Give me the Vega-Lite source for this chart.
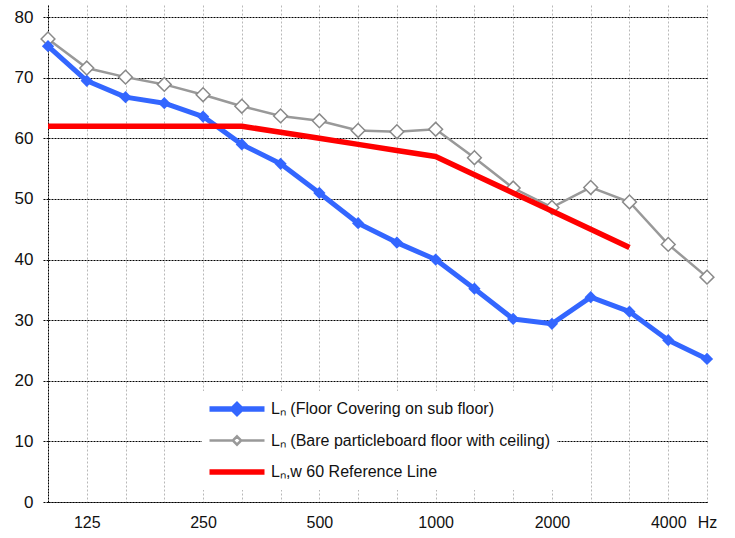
{
  "$schema": "https://vega.github.io/schema/vega-lite/v6.json",
  "autosize": "none",
  "width": 659,
  "height": 497,
  "padding": {"left": 48, "top": 5, "right": 28, "bottom": 36},
  "background": "white",
  "config": {
    "font": "Liberation Sans",
    "view": {"stroke": null},
    "legend": {"labelFont": "Liberation Sans"}
  },
  "data": {
    "values": [
      {"f": 100, "s": "Lₙ (Floor Covering on sub floor)", "v": 75.2},
      {"f": 125, "s": "Lₙ (Floor Covering on sub floor)", "v": 69.5},
      {"f": 160, "s": "Lₙ (Floor Covering on sub floor)", "v": 66.8},
      {"f": 200, "s": "Lₙ (Floor Covering on sub floor)", "v": 65.8},
      {"f": 250, "s": "Lₙ (Floor Covering on sub floor)", "v": 63.6},
      {"f": 315, "s": "Lₙ (Floor Covering on sub floor)", "v": 59.0},
      {"f": 400, "s": "Lₙ (Floor Covering on sub floor)", "v": 55.8},
      {"f": 500, "s": "Lₙ (Floor Covering on sub floor)", "v": 51.0},
      {"f": 630, "s": "Lₙ (Floor Covering on sub floor)", "v": 46.0},
      {"f": 800, "s": "Lₙ (Floor Covering on sub floor)", "v": 42.8},
      {"f": 1000, "s": "Lₙ (Floor Covering on sub floor)", "v": 40.0},
      {"f": 1250, "s": "Lₙ (Floor Covering on sub floor)", "v": 35.2},
      {"f": 1600, "s": "Lₙ (Floor Covering on sub floor)", "v": 30.2},
      {"f": 2000, "s": "Lₙ (Floor Covering on sub floor)", "v": 29.4},
      {"f": 2500, "s": "Lₙ (Floor Covering on sub floor)", "v": 33.8},
      {"f": 3150, "s": "Lₙ (Floor Covering on sub floor)", "v": 31.4},
      {"f": 4000, "s": "Lₙ (Floor Covering on sub floor)", "v": 26.7},
      {"f": 5000, "s": "Lₙ (Floor Covering on sub floor)", "v": 23.6},
      {"f": 100, "s": "Lₙ (Bare particleboard floor with ceiling)", "v": 76.4},
      {"f": 125, "s": "Lₙ (Bare particleboard floor with ceiling)", "v": 71.6},
      {"f": 160, "s": "Lₙ (Bare particleboard floor with ceiling)", "v": 70.1},
      {"f": 200, "s": "Lₙ (Bare particleboard floor with ceiling)", "v": 68.9},
      {"f": 250, "s": "Lₙ (Bare particleboard floor with ceiling)", "v": 67.2},
      {"f": 315, "s": "Lₙ (Bare particleboard floor with ceiling)", "v": 65.3},
      {"f": 400, "s": "Lₙ (Bare particleboard floor with ceiling)", "v": 63.7},
      {"f": 500, "s": "Lₙ (Bare particleboard floor with ceiling)", "v": 62.9},
      {"f": 630, "s": "Lₙ (Bare particleboard floor with ceiling)", "v": 61.3},
      {"f": 800, "s": "Lₙ (Bare particleboard floor with ceiling)", "v": 61.1},
      {"f": 1000, "s": "Lₙ (Bare particleboard floor with ceiling)", "v": 61.5},
      {"f": 1250, "s": "Lₙ (Bare particleboard floor with ceiling)", "v": 56.8},
      {"f": 1600, "s": "Lₙ (Bare particleboard floor with ceiling)", "v": 51.8},
      {"f": 2000, "s": "Lₙ (Bare particleboard floor with ceiling)", "v": 48.6},
      {"f": 2500, "s": "Lₙ (Bare particleboard floor with ceiling)", "v": 51.9},
      {"f": 3150, "s": "Lₙ (Bare particleboard floor with ceiling)", "v": 49.5},
      {"f": 4000, "s": "Lₙ (Bare particleboard floor with ceiling)", "v": 42.5},
      {"f": 5000, "s": "Lₙ (Bare particleboard floor with ceiling)", "v": 37.1},
      {"f": 100, "s": "Lₙ,w  60 Reference Line", "v": 62},
      {"f": 125, "s": "Lₙ,w  60 Reference Line", "v": 62},
      {"f": 160, "s": "Lₙ,w  60 Reference Line", "v": 62},
      {"f": 200, "s": "Lₙ,w  60 Reference Line", "v": 62},
      {"f": 250, "s": "Lₙ,w  60 Reference Line", "v": 62},
      {"f": 315, "s": "Lₙ,w  60 Reference Line", "v": 62},
      {"f": 400, "s": "Lₙ,w  60 Reference Line", "v": 61},
      {"f": 500, "s": "Lₙ,w  60 Reference Line", "v": 60},
      {"f": 630, "s": "Lₙ,w  60 Reference Line", "v": 59},
      {"f": 800, "s": "Lₙ,w  60 Reference Line", "v": 58},
      {"f": 1000, "s": "Lₙ,w  60 Reference Line", "v": 57},
      {"f": 1250, "s": "Lₙ,w  60 Reference Line", "v": 54},
      {"f": 1600, "s": "Lₙ,w  60 Reference Line", "v": 51},
      {"f": 2000, "s": "Lₙ,w  60 Reference Line", "v": 48},
      {"f": 2500, "s": "Lₙ,w  60 Reference Line", "v": 45},
      {"f": 3150, "s": "Lₙ,w  60 Reference Line", "v": 42}
    ]
  },
  "encoding": {
    "x": {
      "field": "f",
      "type": "ordinal",
      "scale": {"type": "point", "padding": 0},
      "axis": {
        "title": null,
        "labelAngle": 0,
        "labelFontSize": 16,
        "labelColor": "#111",
        "labelPadding": 12,
        "labelExpr": "datum.value == 5000 ? 'Hz' : (indexof([125, 250, 500, 1000, 2000, 4000], datum.value) >= 0 ? datum.label : '')",
        "ticks": false,
        "grid": true,
        "gridColor": "#b8b8b8",
        "gridDash": [2, 2],
        "gridWidth": 1,
        "domain": true,
        "domainColor": "#000",
        "domainDash": [2, 1],
        "domainWidth": 1,
        "zindex": 0
      }
    },
    "y": {
      "field": "v",
      "type": "quantitative",
      "scale": {"domain": [0, 82], "nice": false},
      "axis": {
        "title": null,
        "values": [0, 10, 20, 30, 40, 50, 60, 70, 80],
        "labelFontSize": 17,
        "labelColor": "#111",
        "labelPadding": 10,
        "ticks": true,
        "tickSize": 5,
        "tickColor": "#000",
        "tickDash": [2, 1],
        "grid": true,
        "gridColor": "#000",
        "gridDash": [2, 1],
        "gridWidth": 1,
        "domain": true,
        "domainColor": "#000",
        "domainDash": [2, 1],
        "domainWidth": 1,
        "zindex": 0
      }
    }
  },
  "layer": [
    {
      "transform": [{"filter": "datum.s == 'Lₙ (Bare particleboard floor with ceiling)'"}],
      "mark": {"type": "line", "color": "#999999", "strokeWidth": 2.5}
    },
    {
      "transform": [{"filter": "datum.s == 'Lₙ (Bare particleboard floor with ceiling)'"}],
      "mark": {"type": "point", "shape": "diamond", "size": 190, "filled": true, "fill": "white", "stroke": "#8a8a8a", "strokeWidth": 1.5, "opacity": 1}
    },
    {
      "transform": [{"filter": "datum.s == 'Lₙ (Floor Covering on sub floor)'"}],
      "mark": {"type": "line", "color": "#3366ff", "strokeWidth": 5, "strokeJoin": "round"}
    },
    {
      "transform": [{"filter": "datum.s == 'Lₙ (Floor Covering on sub floor)'"}],
      "mark": {"type": "point", "shape": "diamond", "size": 150, "filled": true, "color": "#3366ff", "opacity": 1}
    },
    {
      "transform": [{"filter": "datum.s == 'Lₙ,w  60 Reference Line'"}],
      "mark": {"type": "line", "color": "#ff0000", "strokeWidth": 5.5, "strokeJoin": "round"}
    },
    {
      "mark": {"type": "point", "opacity": 0, "filled": true},
      "encoding": {
        "shape": {
          "field": "s",
          "type": "nominal",
          "scale": {
            "domain": ["Lₙ (Floor Covering on sub floor)", "Lₙ (Bare particleboard floor with ceiling)", "Lₙ,w  60 Reference Line"],
            "range": [
              "M-1,0H-0.15M0.15,0H1M0,-0.15L0.15,0L0,0.15L-0.15,0Z",
              "M-1,0H-0.15M0.15,0H1M0,-0.15L0.15,0L0,0.15L-0.15,0Z",
              "M-1,0H1"
            ]
          },
          "legend": {
            "title": null,
            "orient": "none",
            "legendX": 154,
            "legendY": 386,
            "symbolSize": 3025,
            "symbolOffset": 21,
            "clipHeight": 24,
            "rowPadding": 7.5,
            "padding": 6,
            "fillColor": "white",
            "strokeColor": null,
            "labelFontSize": 16,
            "labelOffset": 26,
            "labelLimit": 500,
            "labelColor": "#111",
            "symbolOpacity": 1,
            "symbolStrokeWidth": {"expr": "datum.value === 'Lₙ (Bare particleboard floor with ceiling)' ? 2.5 : 5.5"},
            "encode": {
              "symbols": {
                "update": {
                  "stroke": {"signal": "datum.value === 'Lₙ (Floor Covering on sub floor)' ? '#3366ff' : (datum.value === 'Lₙ (Bare particleboard floor with ceiling)' ? '#999999' : '#ff0000')"},
                  "fill": {"signal": "datum.value === 'Lₙ (Floor Covering on sub floor)' ? '#3366ff' : (datum.value === 'Lₙ (Bare particleboard floor with ceiling)' ? '#ffffff' : 'transparent')"},
                  "opacity": {"value": 1}
                }
              }
            }
          }
        },
        "fill": {
          "field": "s",
          "type": "nominal",
          "scale": {
            "domain": ["Lₙ (Floor Covering on sub floor)", "Lₙ (Bare particleboard floor with ceiling)", "Lₙ,w  60 Reference Line"],
            "range": ["#3366ff", "#ffffff", "transparent"]
          }
        },
        "stroke": {
          "field": "s",
          "type": "nominal",
          "scale": {
            "domain": ["Lₙ (Floor Covering on sub floor)", "Lₙ (Bare particleboard floor with ceiling)", "Lₙ,w  60 Reference Line"],
            "range": ["#3366ff", "#999999", "#ff0000"]
          }
        }
      }
    }
  ]
}
